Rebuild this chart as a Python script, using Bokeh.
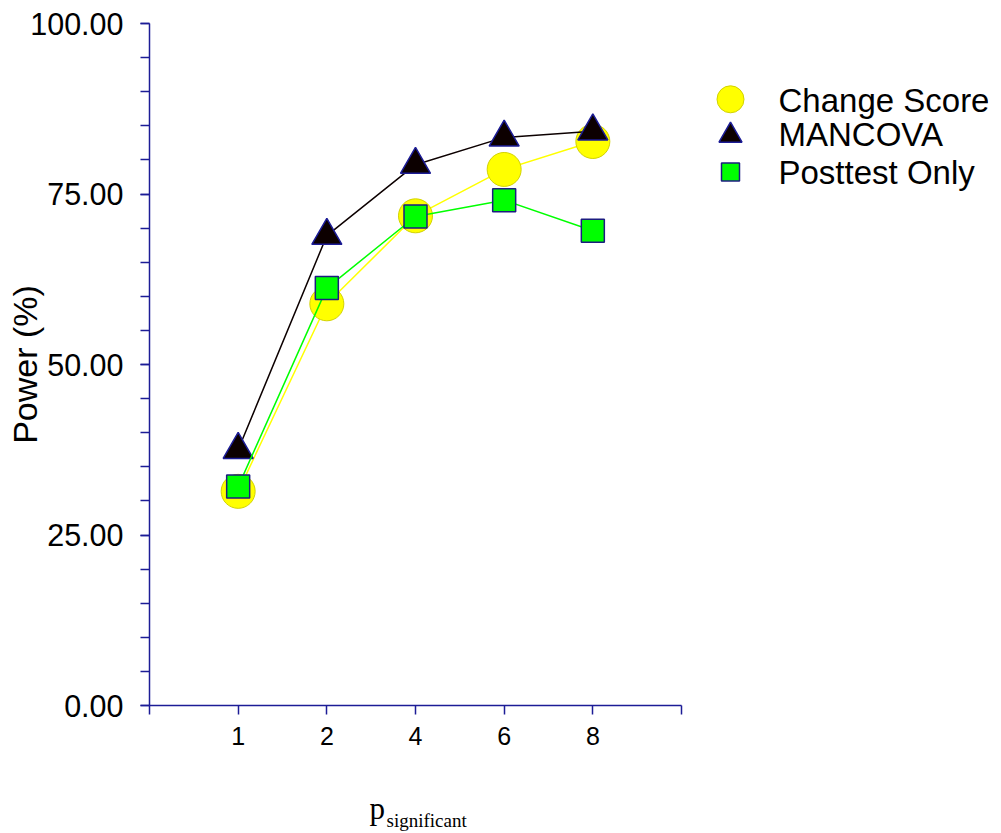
import math
from bokeh.plotting import figure
from bokeh.layouts import column
from bokeh.models import Range1d, FixedTicker, NumeralTickFormatter, Label
from bokeh.core.properties import value
from bokeh.embed import file_html
from bokeh.resources import INLINE

# ---- data ----
x_labels = ["1", "2", "4", "6", "8"]
change_score = [31.4, 58.9, 71.8, 78.6, 82.7]
mancova = [37.5, 68.9, 79.3, 83.3, 84.2]
posttest_only = [32.1, 61.2, 71.7, 74.1, 69.6]
series_names = ["Change Score", "MANCOVA", "Posttest Only"]
y_ticks = [0, 25, 50, 75, 100]
y_minor = list(range(0, 101, 5))

# ---- layout (pixels) ----
W = 1000
H_MAIN, H_TITLE = 788, 44
FL, FT, FR = 149, 23, 12
FB = H_MAIN - 705
frame_w = W - FL - FR
frame_h = H_MAIN - FT - FB
axis_len = 532
n_slots = len(x_labels) + 1
unit = axis_len / n_slots
x_end = frame_w / unit

def dx(px):
    return (px - FL) / unit

def dy(py):
    return (FT + frame_h - py) / (frame_h / 100.0)

FONT = "Liberation Sans"
AX = "#1c1c96"

x_range = Range1d(0, x_end)
p = figure(width=W, height=H_MAIN, output_backend="svg", toolbar_location=None,
           x_range=x_range, y_range=Range1d(0, 100),
           min_border_left=FL, min_border_right=FR, min_border_top=FT, min_border_bottom=FB)
p.outline_line_color = None
p.xgrid.visible = False
p.ygrid.visible = False
p.background_fill_color = "white"
p.border_fill_color = "white"

xs = [i + 1 for i in range(len(x_labels))]

# x axis
p.xaxis.bounds = (0, n_slots)
p.xaxis.ticker = FixedTicker(ticks=list(range(0, n_slots + 1)))
overrides = {0: ""}
for i, lab in enumerate(x_labels):
    overrides[i + 1] = lab
overrides[n_slots] = ""
p.xaxis.major_label_overrides = overrides
p.xaxis.axis_line_color = AX
p.xaxis.axis_line_width = 1.5
p.xaxis.major_tick_line_color = AX
p.xaxis.major_tick_line_width = 1.5
p.xaxis.major_tick_out = 9
p.xaxis.major_tick_in = 0
p.xaxis.minor_tick_line_color = None
p.xaxis.major_label_text_font = FONT
p.xaxis.major_label_text_font_size = "25px"
p.xaxis.major_label_text_color = "black"
p.xaxis.major_label_standoff = 12

# y axis
p.yaxis.ticker = FixedTicker(ticks=y_ticks, minor_ticks=y_minor)
p.yaxis.formatter = NumeralTickFormatter(format="0.00")
p.yaxis.axis_line_color = AX
p.yaxis.axis_line_width = 1.5
p.yaxis.major_tick_line_color = AX
p.yaxis.major_tick_line_width = 1.5
p.yaxis.minor_tick_line_color = AX
p.yaxis.minor_tick_line_width = 1.5
p.yaxis.major_tick_out = 9
p.yaxis.major_tick_in = 0
p.yaxis.minor_tick_out = 9
p.yaxis.minor_tick_in = 0
p.yaxis.major_label_text_font = FONT
p.yaxis.major_label_text_font_size = "30.5px"
p.yaxis.major_label_text_color = "black"
p.yaxis.major_label_standoff = 17
p.yaxis.axis_label = "Power (%)"
p.yaxis.axis_label_text_font = FONT
p.yaxis.axis_label_text_font_size = "34px"
p.yaxis.axis_label_text_font_style = "normal"
p.yaxis.axis_label_text_color = "black"
p.yaxis.axis_label_standoff = -17

# series
p.line(xs, change_score, line_color="#FFFF00", line_width=1.5)
p.scatter(xs, change_score, marker="circle", size=34, fill_color="#FFFF00",
          line_color="#D2D200", line_width=1)
p.line(xs, mancova, line_color="#0c0000", line_width=1.5)
p.scatter(xs, mancova, marker="triangle", size=30, fill_color="#0c0000",
          line_color="#1c1c96", line_width=1.5)
p.line(xs, posttest_only, line_color="#00FF00", line_width=1.5)
p.scatter(xs, posttest_only, marker="square", size=23, fill_color="#00FF00",
          line_color="#1c1c80", line_width=1.5)

# legend (manual, inside the widened frame)
leg_rows = [98.8, 135.0, 171.5]
leg_x = dx(730)
p.scatter([leg_x], [dy(leg_rows[0])], marker="circle", size=27, fill_color="#FFFF00",
          line_color="#D2D200", line_width=1)
p.scatter([leg_x], [dy(leg_rows[1])], marker="triangle", size=23, fill_color="#0c0000",
          line_color="#1c1c96", line_width=1.5)
p.scatter([leg_x], [dy(leg_rows[2])], marker="square", size=18, fill_color="#00FF00",
          line_color="#1c1c80", line_width=1.5)
text_rows = [100.0, 134.0, 171.5]
p.text(x=[dx(778)] * 3, y=[dy(r) for r in text_rows], text=series_names,
       text_font=value(FONT), text_font_size="33px", text_color="black",
       text_baseline="middle", text_align="left")

# x axis title strip (frame aligned with the main plot): "p" with subscript "significant"
t = figure(width=W, height=H_TITLE, output_backend="svg", toolbar_location=None,
           x_range=x_range, y_range=Range1d(0, H_TITLE),
           x_axis_type=None, y_axis_type=None,
           min_border_left=FL, min_border_right=FR, min_border_top=0, min_border_bottom=0)
t.outline_line_color = None
t.grid.visible = False
t.background_fill_color = "white"
t.border_fill_color = "white"
page_bottom = H_MAIN + H_TITLE
t.add_layout(Label(x=dx(369), y=page_bottom - 807.5, text="p", text_font="Liberation Serif",
                   text_font_size="31px", text_color="black",
                   text_align="left", text_baseline="alphabetic"))
t.add_layout(Label(x=dx(386), y=page_bottom - 819.5, text="significant", text_font="Liberation Serif",
                   text_font_size="19px", text_color="black",
                   text_align="left", text_baseline="alphabetic"))

layout = column(p, t, spacing=0)
open("out.html", "w").write(file_html(layout, INLINE))
